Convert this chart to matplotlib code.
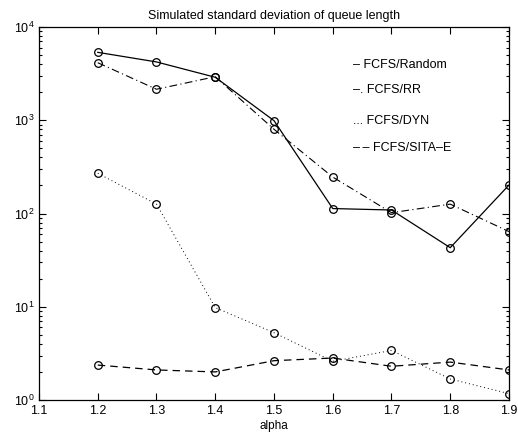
import matplotlib
matplotlib.use("Agg")
import matplotlib.pyplot as plt
from matplotlib.ticker import LogLocator, NullFormatter, LogFormatterMathtext

plt.rcParams['font.family'] = ['Liberation Sans', 'DejaVu Sans']
plt.rcParams['mathtext.fontset'] = 'custom'
plt.rcParams['mathtext.rm'] = 'Liberation Sans'
plt.rcParams['mathtext.it'] = 'Liberation Sans'

alpha = [1.2, 1.3, 1.4, 1.5, 1.6, 1.7, 1.8, 1.9]
random_sd = [5350, 4220, 2890, 990, 113, 109, 43, 202]
rr_sd = [4140, 2150, 2930, 800, 246, 102, 126, 64]
dyn_sd = [270, 126, 9.8, 5.27, 2.6, 3.4, 1.68, 1.17]
sita_sd = [2.37, 2.10, 2.0, 2.64, 2.82, 2.3, 2.55, 2.1]
legend_labels = ["– FCFS/Random", "–. FCFS/RR", "... FCFS/DYN", "–\u2009– FCFS/SITA–E"]
xticks = [1.1, 1.2, 1.3, 1.4, 1.5, 1.6, 1.7, 1.8, 1.9]

fig = plt.figure(figsize=(5.18, 4.37), dpi=100)
ax = fig.add_axes([39/518, 1-400/437, (509-39)/518, (400-27)/437])

mk = dict(marker='o', markersize=5.5, markerfacecolor='none', markeredgecolor='black', markeredgewidth=0.9, color='black')
ax.plot(alpha, random_sd, linestyle='-', linewidth=0.9, **mk)
ax.plot(alpha, rr_sd, linestyle=(0, (7, 3, 1, 3)), linewidth=0.8, **mk)
ax.plot(alpha, dyn_sd, linestyle=(0, (1, 3)), linewidth=0.7, **mk)
ax.plot(alpha, sita_sd, linestyle=(0, (6, 4)), linewidth=0.9, **mk)

ax.set_yscale('log')
ax.set_ylim(1, 1e4)
ax.set_xlim(1.1, 1.9)
ax.set_xticks(xticks)
ax.set_xticklabels([f"{t:.1f}" for t in xticks])
ax.yaxis.set_major_locator(LogLocator(base=10, numticks=10))
ax.yaxis.set_minor_locator(LogLocator(base=10, subs=range(2, 10), numticks=50))
ax.yaxis.set_minor_formatter(NullFormatter())
ax.yaxis.set_major_formatter(LogFormatterMathtext())

ax.tick_params(which='both', direction='in', top=True, right=True, labelsize=9, width=0.8)
ax.tick_params(which='major', length=5)
ax.tick_params(which='minor', length=2.5)
for s in ax.spines.values():
    s.set_linewidth(0.9)

ax.set_title("Simulated standard deviation of queue length", fontsize=9, pad=6)
ax.set_xlabel("alpha", fontsize=8.5, labelpad=2)

ys = [65, 90, 121, 148]
for lab, y in zip(legend_labels, ys):
    ax.text(353/518, 1-y/437, lab, transform=fig.transFigure, fontsize=9, va='center', ha='left')

fig.savefig("out.png", dpi=100)
